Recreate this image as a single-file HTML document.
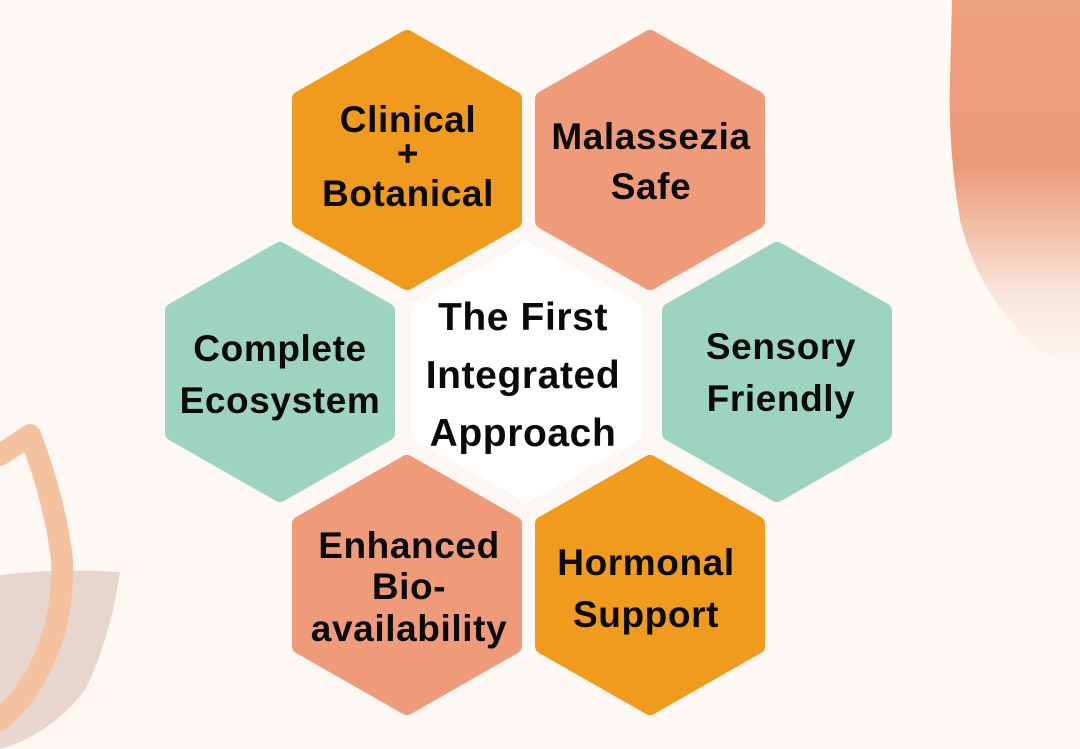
<!DOCTYPE html>
<html><head><meta charset="utf-8"><style>
html,body{margin:0;padding:0;background:#FDF8F4;}
svg{display:block;}
text{font-family:"Liberation Sans",sans-serif;font-weight:bold;fill:#0a0a0a;text-anchor:middle;}
</style></head><body>
<svg width="1080" height="749" viewBox="0 0 1080 749" xmlns="http://www.w3.org/2000/svg">
<defs>
<linearGradient id="wc" x1="0" y1="0" x2="0" y2="1">
<stop offset="0" stop-color="#EDA07E"/>
<stop offset="0.45" stop-color="#EC9B78"/>
<stop offset="0.55" stop-color="#EFB195"/>
<stop offset="0.8" stop-color="#F9E6DC"/>
<stop offset="1" stop-color="#FDF8F4"/>
</linearGradient>
</defs>
<rect width="1080" height="749" fill="#FDF8F4"/>
<path d="M952 0 L1080 0 L1080 370 Q1040 360 1010 320 Q975 280 960 220 Q948 150 950 80 Z" fill="url(#wc)"/>
<path d="M0 575 Q60 568 120 572 Q110 640 85 690 Q50 735 0 749 Z" fill="#E8D5CE"/>
<path d="M0 455 L30 435 Q55 500 62 560 Q65 640 20 700 L0 720" fill="none" stroke="#F4C29F" stroke-width="22" stroke-linejoin="round" stroke-linecap="round"/>
<g stroke-linejoin="round" stroke-width="16">
<polygon points="407,38 514,99 514,221 407,282 300,221 300,99" fill="#F09A1E" stroke="#F09A1E"/>
<polygon points="650,38 757,99 757,221 650,282 543,221 543,99" fill="#EF9B7A" stroke="#EF9B7A"/>
<polygon points="280,250 387,311 387,433 280,494 173,433 173,311" fill="#9DD3C1" stroke="#9DD3C1"/>
<polygon points="527,250 634,311 634,433 527,494 420,433 420,311" fill="#FFFFFF" stroke="#FFFFFF"/>
<polygon points="777,250 884,311 884,433 777,494 670,433 670,311" fill="#9DD3C1" stroke="#9DD3C1"/>
<polygon points="407,463 514,524 514,646 407,707 300,646 300,524" fill="#EF9B7A" stroke="#EF9B7A"/>
<polygon points="650,463 757,524 757,646 650,707 543,646 543,524" fill="#F09A1E" stroke="#F09A1E"/>
</g>
<g font-size="37" letter-spacing="0.6">
<text x="408" y="132">Clinical</text>
<text x="408" y="166">+</text>
<text x="408" y="206">Botanical</text>
<text x="651" y="149">Malassezia</text>
<text x="651" y="199">Safe</text>
<text x="280" y="361">Complete</text>
<text x="280" y="413">Ecosystem</text>
<text x="781" y="359">Sensory</text>
<text x="781" y="411">Friendly</text>
<text x="409" y="558">Enhanced</text>
<text x="409" y="599">Bio-</text>
<text x="409" y="641">availability</text>
<text x="646" y="575">Hormonal</text>
<text x="646" y="627">Support</text>
</g>
<g font-size="39" letter-spacing="0.6">
<text x="523" y="330">The First</text>
<text x="523" y="388">Integrated</text>
<text x="523" y="446">Approach</text>
</g>
</svg>
</body></html>
